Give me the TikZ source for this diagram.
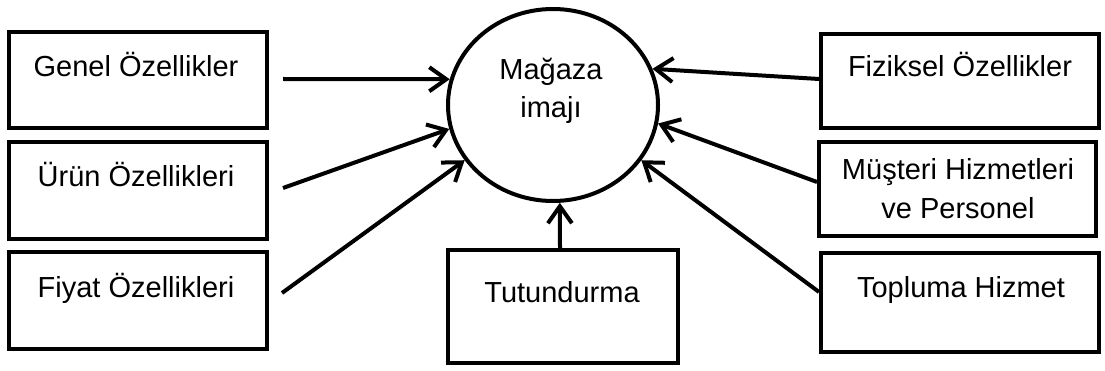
\documentclass[tikz,border=0pt]{standalone}
\usepackage{fontspec}
\setmainfont{Liberation Sans}
\usetikzlibrary{arrows.meta,shapes.geometric,calc}
\begin{document}
\begin{tikzpicture}[x=1pt,y=1pt,
  box/.style={draw=black,line width=4pt,rectangle,inner sep=0pt},
  circ/.style={draw=black,line width=4pt,ellipse,inner sep=0pt,minimum width=210pt,minimum height=192pt},
  txt/.style={font=\fontsize{29}{38}\selectfont,anchor=base,inner sep=0pt,align=center},
  arr/.style={line width=4pt,-{Straight Barb[length=17pt,width=24pt]}}]
\useasboundingbox (0,0) rectangle (1105,370);
% boxes
\node[box,minimum width=258pt,minimum height=96pt] (genel) at (138,290) {};
\node[box,minimum width=258pt,minimum height=97pt] (urun) at (138,179.5) {};
\node[box,minimum width=258pt,minimum height=97pt] (fiyat) at (138,69.5) {};
\node[box,minimum width=230pt,minimum height=113pt] (tut) at (563,63.5) {};
\node[box,minimum width=278pt,minimum height=94pt] (fiz) at (960,289) {};
\node[box,minimum width=277pt,minimum height=94pt] (mus) at (957.5,181) {};
\node[box,minimum width=278pt,minimum height=99pt] (top) at (960,67.5) {};
\node[circ] (m) at (553,265) {};
% texts
\node[txt] (tgenel) at (136,293) {Genel Özellikler};
\node[txt] (turun) at (136,183) {Ürün Özellikleri};
\node[txt] (tfiyat) at (136,73) {Fiyat Özellikleri};
\node[txt] (ttut) at (562,68) {Tutundurma};
\node[txt] (tfiz) at (960,293) {Fiziksel Özellikler};
\node[txt] (tmus1) at (958,190) {Müşteri Hizmetleri};
\node[txt] (tmus2) at (958,152) {ve Personel};
\node[txt] (ttop) at (961,73) {Topluma Hizmet};
\node[txt] (tm1) at (551,290) {Mağaza};
\node[txt] (tm2) at (551,252) {imajı};
% arrow start points
\coordinate (s1) at ($(genel.east)+(14,1)$);
\coordinate (s2) at ($(urun.east)+(14,2.5)$);
\coordinate (s3) at ($(fiyat.east)+(13,7.5)$);
\coordinate (s5) at ($(fiz.west)+(0,2)$);
\coordinate (s6) at ($(mus.west)+(0,7)$);
\coordinate (s7) at ($(top.west)+(0,10.5)$);
% arrows
\draw[arr] (s1) -- (m.166.5);
\draw[arr] (s2) -- (m.193);
\draw[arr] (s3) -- (m.212);
\draw[arr] (tut.north -| 560,0) -- (m.274);
\draw[arr] (s5) -- (m.20);
\draw[arr] (s6) -- (m.350.5);
\draw[arr] (s7) -- (m.328);
\end{tikzpicture}
\end{document}
